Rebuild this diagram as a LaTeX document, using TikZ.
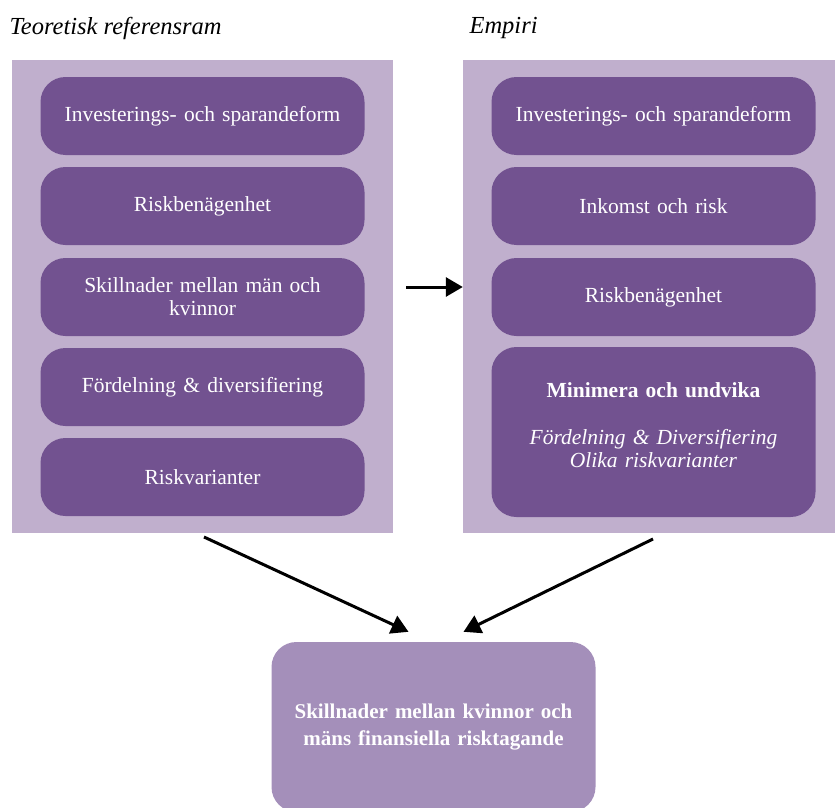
\documentclass[tikz,border=0pt]{standalone}
\usepackage{fontspec}
\setmainfont{Liberation Serif}
\usetikzlibrary{positioning}
\usetikzlibrary{arrows.meta}

\definecolor{panelcol}{HTML}{C0AFCD}
\definecolor{boxcol}{HTML}{725290}
\definecolor{rescol}{HTML}{A48FBA}

\tikzset{
  panel/.style = {fill=panelcol, draw=none, minimum width=#1, minimum height=472pt, inner sep=0pt},
  item/.style = {fill=boxcol, draw=none, rounded corners=25pt, text=white, align=center,
                 minimum width=324pt, minimum height=78pt, text width=310pt,
                 font=\fontsize{21.5}{23}\selectfont},
  title/.style = {anchor=west, font=\fontsize{24.5}{28}\selectfont\itshape},
  arr/.style = {-{Triangle[length=17pt, width=19pt]}, line width=3pt}
}

\begin{document}
\begin{tikzpicture}[x=1pt, y=-1pt]
  \useasboundingbox (0,0) rectangle (835,808);

  % headings
  \node[title] (t1) at (6,28) {Teoretisk referensram};
  \node[title] (t2) at (466,28) {Empiri};

  % background panels
  \node[panel=381pt] (lpanel) at (202.5,296.5) {};
  \node[panel=372pt] (rpanel) at (649,296.5) {};

  % theory column
  \node[item] (l1) at (202.5,116) {Investerings- och sparandeform};
  \node[item] (l2) at (202.5,206) {Riskbenägenhet};
  \node[item] (l3) at (202.5,297) {Skillnader mellan män och\\kvinnor};
  \node[item] (l4) at (202.5,387) {Fördelning \& diversifiering};
  \node[item] (l5) at (202.5,477) {Riskvarianter};

  % empirical column
  \node[item, minimum height=170pt, text depth=84pt] (r4) at (653.5,432)
    {\textbf{Minimera och undvika}\\[24pt]\itshape Fördelning \& Diversifiering\\\itshape Olika riskvarianter};
  \node[item] (r1) at (653.5,116) {Investerings- och sparandeform};
  \node[item] (r2) at (653.5,206) {Inkomst och risk};
  \node[item] (r3) at (653.5,297) {Riskbenägenhet};

  % result
  \node[item, fill=rescol, minimum height=170pt, font=\fontsize{21}{27}\selectfont\bfseries]
    (res) at (433.5,727) {Skillnader mellan kvinnor och\\mäns finansiella risktagande};

  \coordinate (h1) at (406,287);
  \coordinate (lstart) at (204,537);
  \coordinate (rstart) at (653,539);

  \draw[arr] (h1) -- (rpanel.west |- h1);
  \draw[arr] (lstart) -- ([shift={(-25,-10)}]res.north);
  \draw[arr] (rstart) -- ([shift={(30,-10)}]res.north);

\end{tikzpicture}
\end{document}
